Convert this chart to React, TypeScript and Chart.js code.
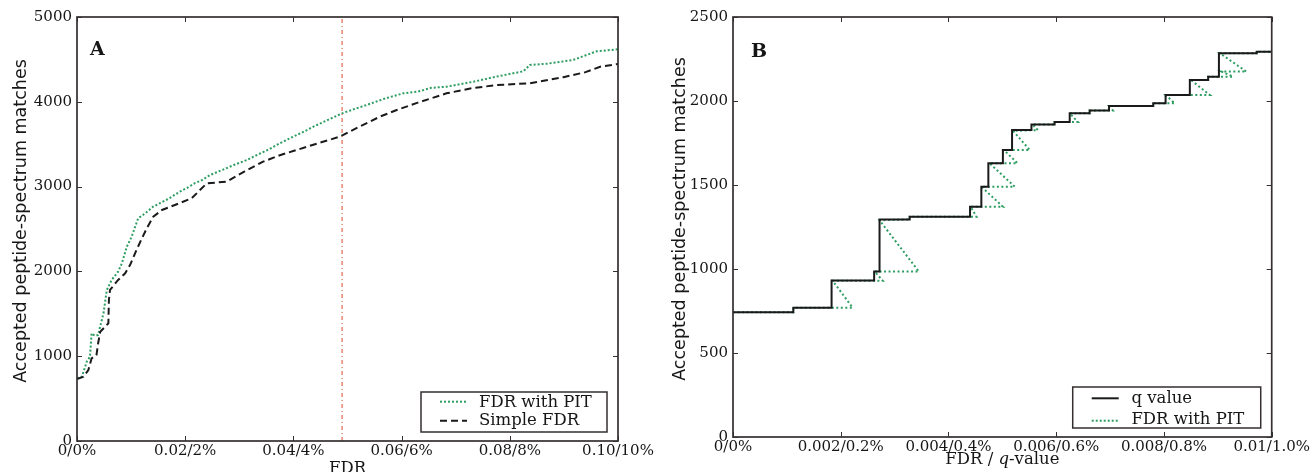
import React, { useEffect, useRef } from 'react';
import { Chart, registerables } from 'chart.js';
Chart.register(...registerables);

// ---------- Panel A data ----------
const pitFdrA = [0, 0.0009, 0.0018, 0.0024, 0.0027, 0.0033, 0.0039, 0.0042, 0.0049, 0.0055, 0.0064, 0.0076, 0.0083, 0.0092, 0.0101, 0.0113, 0.0126, 0.014, 0.0155, 0.017, 0.019, 0.0205, 0.0218, 0.0232, 0.0246, 0.027, 0.029, 0.0314, 0.0335, 0.0355, 0.0375, 0.04, 0.042, 0.0437, 0.0465, 0.049, 0.0515, 0.0535, 0.057, 0.0603, 0.063, 0.0655, 0.0683, 0.0733, 0.077, 0.0806, 0.0825, 0.0837, 0.087, 0.0917, 0.096, 0.1];
const pitCountA = [740, 758, 935, 994, 1270, 1240, 1250, 1329, 1506, 1780, 1899, 1997, 2096, 2290, 2409, 2626, 2685, 2760, 2810, 2860, 2940, 2990, 3040, 3080, 3137, 3200, 3255, 3314, 3380, 3440, 3511, 3590, 3650, 3707, 3790, 3864, 3920, 3962, 4040, 4100, 4120, 4165, 4178, 4237, 4290, 4336, 4360, 4434, 4450, 4493, 4595, 4619];
const simpleFdrA = [0, 0.0012, 0.0021, 0.0027, 0.0036, 0.0039, 0.0043, 0.0052, 0.0058, 0.0059, 0.0061, 0.0076, 0.0089, 0.0098, 0.011, 0.012, 0.0129, 0.0141, 0.0157, 0.0181, 0.0212, 0.024, 0.0277, 0.031, 0.0344, 0.0375, 0.0406, 0.0445, 0.0486, 0.052, 0.056, 0.0591, 0.063, 0.0683, 0.073, 0.0776, 0.0837, 0.0899, 0.094, 0.0967, 0.1];
const simpleCountA = [730, 758, 837, 975, 1014, 1152, 1289, 1348, 1388, 1663, 1781, 1899, 1978, 2075, 2252, 2390, 2508, 2645, 2724, 2783, 2862, 3039, 3058, 3180, 3294, 3370, 3432, 3510, 3589, 3700, 3825, 3903, 3990, 4100, 4160, 4198, 4218, 4290, 4350, 4414, 4446];
const thresholdFdrA = 0.049;
const xTicksA = [0, 0.02, 0.04, 0.06, 0.08, 0.1];
const xTickLabelsA = ['0/0%', '0.02/2%', '0.04/4%', '0.06/6%', '0.08/8%', '0.10/10%'];
const yTicksA = [0, 1000, 2000, 3000, 4000, 5000];

// ---------- Panel B data ----------
const qFdrB = [0, 0.00112, 0.00183, 0.00262, 0.00272, 0.00328, 0.0044, 0.00461, 0.00474, 0.00501, 0.00518, 0.00554, 0.00597, 0.00625, 0.00662, 0.00698, 0.0078, 0.00803, 0.00848, 0.00882, 0.00902, 0.00972, 0.01];
const qCountB = [742, 770, 932, 985, 1295, 1311, 1371, 1490, 1630, 1708, 1827, 1860, 1875, 1927, 1944, 1970, 1986, 2036, 2125, 2145, 2284, 2293, 2293];
const pitFdrB = [0, 0.00112, 0.00112, 0.00222, 0.00185, 0.00278, 0.00263, 0.00345, 0.00272, 0.00328, 0.00328, 0.00452, 0.00441, 0.00501, 0.00461, 0.00523, 0.00476, 0.00528, 0.00503, 0.00551, 0.0052, 0.00566, 0.00556, 0.00597, 0.00597, 0.0064, 0.00625, 0.00662, 0.00662, 0.00705, 0.00698, 0.0078, 0.0078, 0.0082, 0.00803, 0.00885, 0.0085, 0.00882, 0.00882, 0.00928, 0.00907, 0.00953, 0.00904, 0.00972, 0.00972, 0.01];
const pitCountB = [742, 742, 770, 770, 930, 930, 985, 985, 1290, 1295, 1311, 1311, 1371, 1371, 1490, 1490, 1630, 1630, 1708, 1708, 1822, 1827, 1860, 1860, 1875, 1875, 1927, 1927, 1944, 1944, 1970, 1970, 1986, 1986, 2036, 2036, 2125, 2125, 2145, 2145, 2175, 2175, 2284, 2284, 2293, 2293];
const xTicksB = [0, 0.002, 0.004, 0.006, 0.008, 0.01];
const xTickLabelsB = ['0/0%', '0.002/0.2%', '0.004/0.4%', '0.006/0.6%', '0.008/0.8%', '0.01/1.0%'];
const yTicksB = [0, 500, 1000, 1500, 2000, 2500];

// ---------- styles ----------
const GREEN = '#2e9d62';
const BLACK = '#1a1a1a';
const RED = '#e2674d';
const FRAME = '#352f2f';
const TEXT = '#161616';
const SERIF = "'DejaVu Serif', serif";
const SANS = "'DejaVu Sans', sans-serif";
const Y_TITLE = 'Accepted peptide-spectrum matches';

const toPoints = (xs: number[], ys: number[]) => xs.map((x, i) => ({ x, y: ys[i] }));

type LegendItem = { label: string; color: string; dash: number[]; width: number; lineY: number; textY: number };
type Deco = {
  letter: string; letterDx: number; letterDy: number;
  legend: { width: number; height: number; insetRight: number; insetBottom: number; sampleFrom: number; sampleTo: number; textX: number; items: LegendItem[] };
  xTitleParts: { text: string; italic: boolean }[]; xTitleDy: number;
  yTitleX: number; yTitleY: number;
};

function decoPlugin(deco: Deco) {
  return {
    id: 'deco',
    afterDatasetsDraw(chart: any) {
      const { ctx, chartArea: a, scales } = chart;
      ctx.save();
      ctx.setLineDash([]);
      // inward ticks on all four sides
      ctx.strokeStyle = FRAME;
      ctx.lineWidth = 1;
      const tl = 5;
      ctx.beginPath();
      scales.x.ticks.forEach((t: any) => {
        const px = Math.round(scales.x.getPixelForValue(t.value)) + 0.5;
        ctx.moveTo(px, a.bottom); ctx.lineTo(px, a.bottom - tl);
        ctx.moveTo(px, a.top); ctx.lineTo(px, a.top + tl);
      });
      scales.y.ticks.forEach((t: any) => {
        const py = Math.round(scales.y.getPixelForValue(t.value)) + 0.5;
        ctx.moveTo(a.left, py); ctx.lineTo(a.left + tl, py);
        ctx.moveTo(a.right, py); ctx.lineTo(a.right - tl, py);
      });
      ctx.stroke();
      // frame
      ctx.lineWidth = 1.7;
      ctx.strokeRect(a.left, a.top, a.right - a.left, a.bottom - a.top);

      // panel letter
      ctx.fillStyle = TEXT;
      ctx.font = `bold 19px ${SERIF}`;
      ctx.textAlign = 'left';
      ctx.textBaseline = 'alphabetic';
      ctx.fillText(deco.letter, a.left + deco.letterDx, a.top + deco.letterDy);

      // legend
      const L = deco.legend;
      const x1 = a.right - L.insetRight, x0 = x1 - L.width;
      const y1 = a.bottom - L.insetBottom, y0 = y1 - L.height;
      ctx.fillStyle = '#ffffff';
      ctx.fillRect(x0, y0, L.width, L.height);
      ctx.strokeStyle = FRAME;
      ctx.lineWidth = 1.5;
      ctx.strokeRect(x0, y0, L.width, L.height);
      L.items.forEach((it) => {
        ctx.save();
        ctx.strokeStyle = it.color;
        ctx.lineWidth = it.width;
        ctx.setLineDash(it.dash);
        ctx.beginPath();
        ctx.moveTo(x0 + L.sampleFrom, y0 + it.lineY);
        ctx.lineTo(x0 + L.sampleTo, y0 + it.lineY);
        ctx.stroke();
        ctx.restore();
        ctx.fillStyle = TEXT;
        ctx.font = `16.5px ${SERIF}`;
        ctx.textAlign = 'left';
        ctx.textBaseline = 'alphabetic';
        ctx.fillText(it.label, x0 + L.textX, y0 + it.textY);
      });

      // x axis title (mixed styles)
      const fontFor = (p: { italic: boolean }) => `${p.italic ? 'italic ' : ''}16.5px ${SERIF}`;
      let total = 0;
      deco.xTitleParts.forEach((p) => { ctx.font = fontFor(p); total += ctx.measureText(p.text).width; });
      let cx = (a.left + a.right) / 2 - total / 2;
      ctx.fillStyle = TEXT;
      ctx.textAlign = 'left';
      deco.xTitleParts.forEach((p) => {
        ctx.font = fontFor(p);
        ctx.fillText(p.text, cx, a.bottom + deco.xTitleDy);
        cx += ctx.measureText(p.text).width;
      });

      // y axis title
      ctx.save();
      ctx.translate(deco.yTitleX, deco.yTitleY);
      ctx.rotate(-Math.PI / 2);
      ctx.font = `17.5px ${SANS}`;
      ctx.textAlign = 'center';
      ctx.textBaseline = 'middle';
      ctx.fillStyle = TEXT;
      ctx.fillText(Y_TITLE, 0, 0);
      ctx.restore();

      ctx.restore();
    },
  };
}

function baseOptions(p: {
  xMin: number; xMax: number; xTicks: number[]; xLabels: string[];
  yMax: number; yTicks: number[]; yWidth: number; xHeight: number;
  padRight: number;
}) {
  return {
    responsive: false,
    maintainAspectRatio: false,
    animation: false as const,
    devicePixelRatio: 1,
    layout: { padding: { left: 0, right: p.padRight, top: 17, bottom: 0 } },
    plugins: { legend: { display: false }, tooltip: { enabled: false }, title: { display: false } },
    elements: { point: { radius: 0 }, line: { tension: 0 } },
    scales: {
      x: {
        type: 'linear' as const,
        position: 'bottom' as const,
        min: p.xMin,
        max: p.xMax,
        grid: { display: false, drawTicks: false },
        border: { display: false },
        afterBuildTicks: (scale: any) => { scale.ticks = p.xTicks.map((v) => ({ value: v })); },
        afterFit: (scale: any) => { scale.height = p.xHeight; },
        ticks: {
          autoSkip: false,
          maxRotation: 0,
          padding: 1,
          color: TEXT,
          font: { family: SERIF, size: 15 },
          callback: (_v: any, i: number) => p.xLabels[i],
        },
      },
      y: {
        type: 'linear' as const,
        min: 0,
        max: p.yMax,
        grid: { display: false, drawTicks: false },
        border: { display: false },
        afterBuildTicks: (scale: any) => { scale.ticks = p.yTicks.map((v) => ({ value: v })); },
        afterFit: (scale: any) => { scale.width = p.yWidth; },
        ticks: {
          padding: 5,
          color: TEXT,
          font: { family: SERIF, size: 15 },
          callback: (v: any) => String(v),
        },
        title: { display: false },
      },
    },
  };
}

export default function App() {
  const refA = useRef<HTMLCanvasElement | null>(null);
  const refB = useRef<HTMLCanvasElement | null>(null);

  useEffect(() => {
    const chartA = new Chart(refA.current as HTMLCanvasElement, {
      type: 'line',
      data: {
        datasets: [
          {
            label: 'threshold',
            data: [{ x: thresholdFdrA, y: 0 }, { x: thresholdFdrA, y: 5000 }],
            borderColor: RED,
            borderWidth: 1.2,
            borderDash: [4, 3, 1, 3],
            pointRadius: 0,
          },
          {
            label: 'Simple FDR',
            data: toPoints(simpleFdrA, simpleCountA),
            borderColor: BLACK,
            borderWidth: 2,
            borderDash: [7, 4],
            pointRadius: 0,
          },
          {
            label: 'FDR with PIT',
            data: toPoints(pitFdrA, pitCountA),
            borderColor: GREEN,
            borderWidth: 2,
            borderDash: [2, 2],
            pointRadius: 0,
          },
        ],
      },
      options: baseOptions({
        xMin: 0, xMax: 0.1, xTicks: xTicksA, xLabels: xTickLabelsA,
        yMax: 5000, yTicks: yTicksA, yWidth: 77, xHeight: 49, padRight: 37,
      }) as any,
      plugins: [decoPlugin({
        letter: 'A', letterDx: 13, letterDy: 38,
        legend: {
          width: 186, height: 40, insetRight: 11, insetBottom: 9, sampleFrom: 19, sampleTo: 46, textX: 58,
          items: [
            { label: 'FDR with PIT', color: GREEN, dash: [2, 2], width: 2, lineY: 9.7, textY: 14.7 },
            { label: 'Simple FDR', color: BLACK, dash: [7, 4], width: 2, lineY: 28.7, textY: 33 },
          ],
        },
        xTitleParts: [{ text: 'FDR', italic: false }],
        xTitleDy: 32,
        yTitleX: 21, yTitleY: 221,
      })],
    });

    const chartB = new Chart(refB.current as HTMLCanvasElement, {
      type: 'line',
      data: {
        datasets: [
          {
            label: 'q value',
            data: toPoints(qFdrB, qCountB),
            borderColor: BLACK,
            borderWidth: 2,
            stepped: 'before',
            pointRadius: 0,
          },
          {
            label: 'FDR with PIT',
            data: toPoints(pitFdrB, pitCountB),
            borderColor: GREEN,
            borderWidth: 2,
            borderDash: [2, 2.5],
            pointRadius: 0,
          },
        ],
      },
      options: baseOptions({
        xMin: 0, xMax: 0.01, xTicks: xTicksB, xLabels: xTickLabelsB,
        yMax: 2500, yTicks: yTicksB, yWidth: 78, xHeight: 53, padRight: 39,
      }) as any,
      plugins: [decoPlugin({
        letter: 'B', letterDx: 18, letterDy: 39.5,
        legend: {
          width: 188, height: 41, insetRight: 11, insetBottom: 9, sampleFrom: 19, sampleTo: 46, textX: 58.7,
          items: [
            { label: 'q value', color: BLACK, dash: [], width: 2, lineY: 11.3, textY: 15.7 },
            { label: 'FDR with PIT', color: GREEN, dash: [2, 2], width: 2, lineY: 33.7, textY: 37.3 },
          ],
        },
        xTitleParts: [
          { text: 'FDR / ', italic: false },
          { text: 'q', italic: true },
          { text: '-value', italic: false },
        ],
        xTitleDy: 26.5,
        yTitleX: 25, yTitleY: 219,
      })],
    });

    return () => {
      chartA.destroy();
      chartB.destroy();
    };
  }, []);

  return (
    <div style={{ position: 'fixed', left: 0, top: 0, width: 1311, height: 472, overflow: 'hidden', background: '#ffffff' }}>
      <canvas ref={refA} width={655} height={490} style={{ position: 'absolute', left: 0, top: 0, width: 655, height: 490 }} />
      <canvas ref={refB} width={656} height={490} style={{ position: 'absolute', left: 655, top: 0, width: 656, height: 490 }} />
    </div>
  );
}
